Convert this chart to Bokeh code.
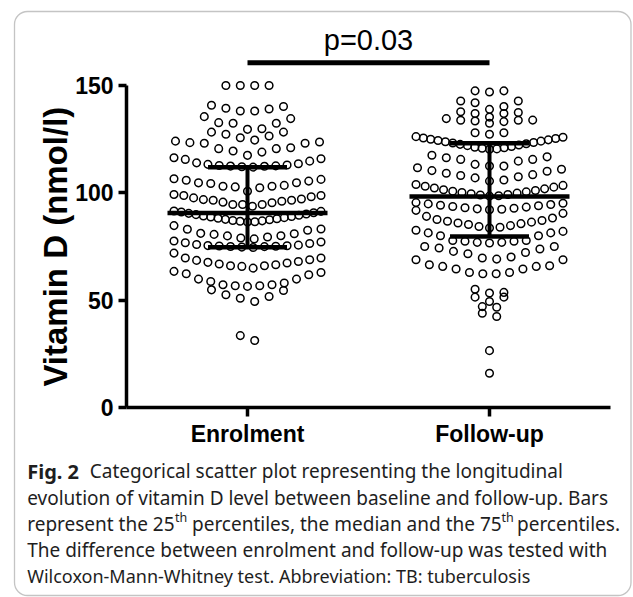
import math
from bokeh.plotting import figure
from bokeh.models import FixedTicker, Label, BoxAnnotation, ColumnDataSource, LinearAxis
from bokeh.embed import file_html
from bokeh.resources import INLINE

# ---------------- data ----------------
CATEGORIES = ["Enrolment", "Follow-up"]
Y_TICKS = [0, 50, 100, 150]

# vitamin D values (nmol/l), grouped in the horizontal rows of the dot plot
ENROLMENT_ROWS = [
    [150, 150, 150, 150],
    [138.1, 138.1, 139.1, 139.4, 140.2, 140.8],
    [129.6, 129.9, 132.4, 132.4, 132.7, 134.6, 135.5],
    [124.6, 125.7, 126.5, 127.3, 128.3, 128.3],
    [117.5, 119.0, 119.5, 120.6, 120.6, 121.0, 123.1, 123.1, 123.4, 123.7, 124.1],
    [112.0, 112.2, 112.4, 112.5, 112.6, 112.8, 113.0, 113.3, 113.6, 114.0, 114.8, 115.6, 115.9, 116.4],
    [100.8, 102.4, 102.8, 103.1, 103.1, 103.5, 104.4, 104.7, 104.7, 105.5, 105.9, 106.3, 106.6],
    [93.8, 94.6, 94.6, 94.6, 95.4, 95.7, 96.1, 96.6, 96.6, 96.9, 97.2, 97.7, 98.2, 98.8, 98.8, 99.3],
    [86.5, 86.6, 86.8, 87.0, 87.2, 87.5, 87.7, 88.0, 88.2, 88.5, 88.8, 89.0, 89.3, 89.6, 89.9, 90.2,
     90.5, 90.8, 91.1, 91.4, 91.6],
    [78.6, 79.0, 79.5, 80.0, 80.1, 80.7, 81.0, 81.2, 82.6, 83.1, 83.2, 84.8],
    [74.6, 74.8, 75.0, 75.1, 75.2, 75.3, 75.4, 75.5, 75.7, 76.0, 76.5, 76.8, 77.2, 77.6],
    [65.0, 65.8, 66.1, 66.1, 66.6, 66.9, 67.4, 67.7, 68.1, 68.6, 68.9, 69.7, 69.7, 72.0],
    [56.5, 56.8, 56.8, 57.3, 57.3, 58.1, 58.8, 59.9, 59.9, 61.9, 62.4, 63.0, 63.5],
    [49.5, 51.0, 51.8, 52.6, 54.6, 54.9],
    [31.3, 33.6],
]
FOLLOWUP_ROWS = [
    [147.0, 147.5, 147.5],
    [138.9, 140.2, 142.0, 142.8, 142.8],
    [135.3, 137.0, 137.0, 137.4, 137.8],
    [132.4, 133.2, 133.5, 133.8, 133.8, 133.9, 134.6],
    [127.3, 128.0, 128.0],
    [120.3, 120.5, 120.8, 121.0, 121.3, 121.6, 122.0, 122.3, 122.6, 122.9, 123.2, 123.5, 123.8,
     124.1, 124.4, 124.7, 125.0, 125.3, 125.6, 125.9, 126.2],
    [112.5, 112.5, 113.3, 114.8, 115.6, 115.6, 116.4, 116.8, 117.5],
    [105.5, 106.0, 107.0, 107.5, 108.1, 108.5, 109.2, 110.1, 110.4, 111.0, 111.7],
    [98.5, 98.7, 99.0, 99.3, 99.6, 99.9, 100.2, 100.5, 100.8, 101.1, 101.5, 101.9, 102.3, 102.7,
     103.1, 103.5, 103.9],
    [92.2, 92.4, 92.6, 92.9, 93.1, 93.4, 93.7, 94.0, 94.3, 94.6, 94.9, 95.2, 95.5],
    [83.7, 84.0, 84.4, 84.8, 85.3, 85.7, 86.0, 86.4, 86.8, 87.2, 87.6, 88.3, 89.1, 90.5, 91.9],
    [76.7, 77.0, 77.0, 77.5, 77.5, 77.9, 77.9, 80.1, 80.1, 81.4, 81.4, 82.1, 82.6],
    [69.2, 69.7, 70.2, 71.7, 72.3, 72.8, 73.9, 74.4, 75.1, 75.1],
    [62.4, 62.4, 63.0, 63.0, 64.6, 64.6, 65.8, 65.8, 66.1, 66.6, 68.9, 68.9],
    [53.4, 53.7, 55.2],
    [49.5, 51.5, 51.5],
    [46.8, 47.1],
    [42.5, 44.0],
    [26.6],
    [16.1],
]
MEDIAN = [90.7, 98.3]
Q1 = [74.7, 79.7]
Q3 = [112.0, 123.1]
P_TEXT = "p=0.03"
Y_TITLE = "Vitamin D (nmol/l)"

CAPTION_BOLD = "Fig. 2"
CAPTION_LINES = [
    "Categorical scatter plot representing the longitudinal",
    "evolution of vitamin D level between baseline and follow-up. Bars",
    ["represent the 25", "th", "percentiles, the median and the 75", "th", "percentiles."],
    "The difference between enrolment and follow-up was tested with",
    "Wilcoxon-Mann-Whitney test. Abbreviation: TB: tuberculosis",
]

# ---------------- layout (frame = whole canvas) ----------------
W, H = 633, 597
AX_LEFT_PX, AX_RIGHT_PX = 126.0, 610.0      # x data 0 .. 2
AX_ZERO_PX, AX_150_PX = 407.3, 85.0         # y data 0 .. 150
PX_PER_X = (AX_RIGHT_PX - AX_LEFT_PX) / 2.0
PX_PER_Y = (AX_ZERO_PX - AX_150_PX) / 150.0
XS = -AX_LEFT_PX / PX_PER_X
XE = XS + W / PX_PER_X
YE = 150 + AX_150_PX / PX_PER_Y
YS = YE - H / PX_PER_Y
BASE_SHIFT = 7.5   # alphabetic-baseline correction (px)


def X(px):
    return XS + px / PX_PER_X


def Y(py):
    return YE - py / PX_PER_Y


def YB(py):
    return Y(py - BASE_SHIFT)


p = figure(width=W, height=H, x_range=(XS, XE), y_range=(YS, YE),
           x_axis_location=None, y_axis_location=None, min_border=0,
           output_backend="svg", toolbar_location=None,
           background_fill_color="white", border_fill_color="white")
p.outline_line_color = None
for g in p.grid:
    g.visible = False

AX_STYLE = dict(axis_line_width=3.5, axis_line_color="black",
                major_tick_line_width=3.5, major_tick_line_color="black",
                major_tick_in=0, minor_tick_line_color=None,
                major_label_text_font="Liberation Sans", major_label_text_font_style="bold",
                major_label_text_font_size="23px", major_label_text_color="black")

xaxis = LinearAxis(fixed_location=0, bounds=(0, len(CATEGORIES)),
                   ticker=FixedTicker(ticks=[i + 0.5 for i in range(len(CATEGORIES))]),
                   major_label_overrides={i + 0.5: c for i, c in enumerate(CATEGORIES)},
                   major_tick_out=9, major_label_standoff=4, **AX_STYLE)
p.add_layout(xaxis, "below")

yaxis = LinearAxis(fixed_location=0, bounds=(Y_TICKS[0], Y_TICKS[-1]),
                   ticker=FixedTicker(ticks=Y_TICKS),
                   major_tick_out=8, major_label_standoff=5, **AX_STYLE)
p.add_layout(yaxis, "left")

# ---------------- dots (row layout computed from values) ----------------
SPACING_PX = 14.4
MAX_SPAN_PX = 147.0
xs, ys = [], []
for gi, rows in enumerate([ENROLMENT_ROWS, FOLLOWUP_ROWS]):
    center = gi + 0.5
    for row in rows:
        vals = sorted(row)
        n = len(vals)
        s = SPACING_PX if n < 2 else min(SPACING_PX, MAX_SPAN_PX / (n - 1))
        slots = [k - (n - 1) / 2.0 for k in range(n)]
        order = sorted(range(n), key=lambda k: (abs(slots[k]), -slots[k]))
        for v, k in zip(vals, order):
            xs.append(center + slots[k] * s / PX_PER_X)
            ys.append(v)

src = ColumnDataSource(dict(x=xs, y=ys))
p.scatter(x="x", y="y", source=src, marker="circle", size=7.6,
          fill_color=None, line_color="black", line_width=1.5)

# ---------------- percentile bars ----------------
MED_HALF = 80 / PX_PER_X
Q_HALF = 39.5 / PX_PER_X
centers = [i + 0.5 for i in range(len(CATEGORIES))]
hx0, hx1, hy = [], [], []
for c, m, a, b in zip(centers, MEDIAN, Q1, Q3):
    hx0 += [c - MED_HALF, c - Q_HALF, c - Q_HALF]
    hx1 += [c + MED_HALF, c + Q_HALF, c + Q_HALF]
    hy += [m, a, b]
p.segment(x0=hx0, y0=hy, x1=hx1, y1=hy, line_width=4.5, line_color="black", line_cap="butt")
p.segment(x0=centers, y0=Q1, x1=centers, y1=Q3, line_width=4, line_color="black", line_cap="butt")

# ---------------- significance bar ----------------
p.segment(x0=[centers[0]], y0=[Y(62.3)], x1=[centers[1]], y1=[Y(62.3)],
          line_width=5, line_color="black", line_cap="butt")
p.add_layout(Label(x=(centers[0] + centers[1]) / 2, y=YB(46.7), text=P_TEXT,
                   text_align="center", text_baseline="alphabetic",
                   text_font="Liberation Sans", text_font_size="29px", text_color="black"))

# ---------------- y axis title ----------------
p.add_layout(Label(x=X(55), y=(Y_TICKS[0] + Y_TICKS[-1]) / 2, text=Y_TITLE, angle=math.pi / 2,
                   text_align="center", text_baseline="middle",
                   text_font="Liberation Sans", text_font_style="bold",
                   text_font_size="33px", text_color="black"))

# ---------------- frame box ----------------
p.add_layout(BoxAnnotation(left=X(14), right=X(630.5), top=Y(11), bottom=Y(595),
                           fill_color=None, fill_alpha=0, line_color="#3a3a3a",
                           line_width=1.3, border_radius=13))

# ---------------- caption ----------------
CAP_FONT = "Noto Sans"
CAP_SIZE = "19px"
SUP_SIZE = "12.5px"
CAP_COLOR = "#1e1e1e"
LEFT = 26.7
BASELINES = [478.3, 504.5, 530.7, 556.9, 583.1]


def cap(x, y, text, style="normal", size=CAP_SIZE, align="left"):
    p.add_layout(Label(x=X(x), y=YB(y), text=text, text_align=align, text_baseline="alphabetic",
                       text_font=CAP_FONT, text_font_size=size, text_font_style=style,
                       text_color=CAP_COLOR))


cap(LEFT, BASELINES[0], CAPTION_BOLD, style="bold", size="20px")
cap(89.3, BASELINES[0], CAPTION_LINES[0])
cap(LEFT, BASELINES[1], CAPTION_LINES[1])
l3 = CAPTION_LINES[2]
cap(LEFT, BASELINES[2], l3[0])
cap(174.5, BASELINES[2] - 6.5, l3[1], size=SUP_SIZE)
cap(191.5, BASELINES[2], l3[2])
cap(501.0, BASELINES[2] - 6.5, l3[3], size=SUP_SIZE)
cap(516.5, BASELINES[2], l3[4])
cap(LEFT, BASELINES[3], CAPTION_LINES[3])
cap(LEFT, BASELINES[4], CAPTION_LINES[4], size="18px")

open("out.html", "w").write(file_html(p, INLINE))
